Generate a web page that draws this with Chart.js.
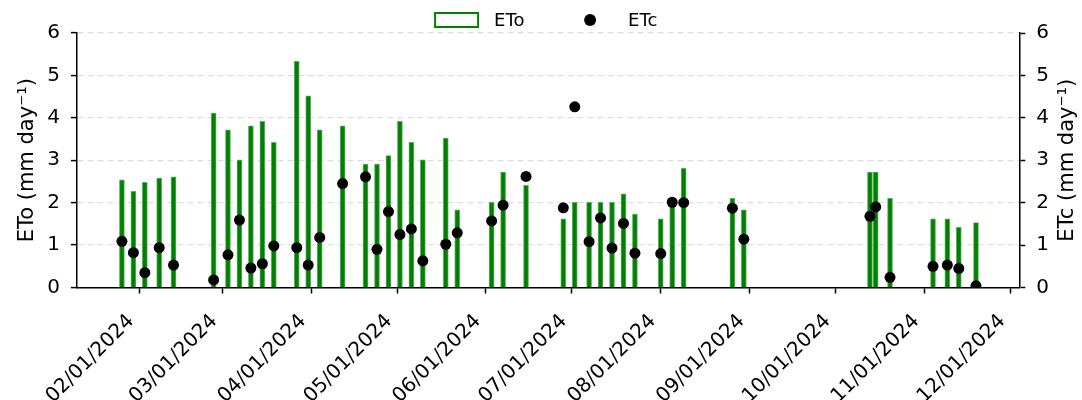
<!DOCTYPE html>
<html>
<head>
<meta charset="utf-8">
<script src="https://cdn.jsdelivr.net/npm/chart.js@4.4.1/dist/chart.umd.min.js"></script>
<style>
  html, body { margin: 0; padding: 0; background: #ffffff; }
</style>
</head>
<body>
<canvas id="etchart" width="1082" height="400"></canvas>
<script>
// measurement dates (bar centres)
const dates = [
    '2024-01-26', '2024-01-30', '2024-02-03', '2024-02-08', '2024-02-13',
    '2024-02-27', '2024-03-03', '2024-03-07', '2024-03-11', '2024-03-15', '2024-03-19',
    '2024-03-27', '2024-03-31', '2024-04-04', '2024-04-12',
    '2024-04-20', '2024-04-24', '2024-04-28', '2024-05-02', '2024-05-06', '2024-05-10',
    '2024-05-18', '2024-05-22',
    '2024-06-03', '2024-06-07', '2024-06-15',
    '2024-06-28', '2024-07-02', '2024-07-07', '2024-07-11', '2024-07-15', '2024-07-19', '2024-07-23',
    '2024-08-01', '2024-08-05', '2024-08-09',
    '2024-08-26', '2024-08-30',
    '2024-10-13', '2024-10-15', '2024-10-20',
    '2024-11-04', '2024-11-09', '2024-11-13', '2024-11-19'
];

// reference evapotranspiration (mm/day)
const etoValues = [
    2.54, 2.27, 2.48, 2.58, 2.61,
    4.11, 3.72, 3.01, 3.81, 3.92, 3.42,
    5.33, 4.52, 3.72, 3.81,
    2.91, 2.91, 3.11, 3.92, 3.42, 3.01,
    3.52, 1.83,
    2.01, 2.72, 2.41,
    1.62, 2.01, 2.01, 2.01, 2.01, 2.21, 1.73,
    1.62, 2.01, 2.81,
    2.10, 1.83,
    2.72, 2.72, 2.10,
    1.62, 1.62, 1.42, 1.53
];

// crop evapotranspiration (mm/day)
const etcValues = [
    1.09, 0.82, 0.35, 0.94, 0.53,
    0.18, 0.77, 1.59, 0.46, 0.56, 0.98,
    0.94, 0.53, 1.18, 2.45,
    2.61, 0.90, 1.79, 1.25, 1.38, 0.63,
    1.02, 1.29,
    1.57, 1.94, 2.62,
    1.88, 4.26, 1.08, 1.64, 0.93, 1.51, 0.81,
    0.80, 2.01, 2.00,
    1.87, 1.14,
    1.68, 1.90, 0.24,
    0.50, 0.53, 0.45, 0.04
];

const tickDates = [
    '2024-02-01', '2024-03-01', '2024-04-01', '2024-05-01', '2024-06-01', '2024-07-01',
    '2024-08-01', '2024-09-01', '2024-10-01', '2024-11-01', '2024-12-01'
];
const tickLabels = [
    '02/01/2024', '03/01/2024', '04/01/2024', '05/01/2024', '06/01/2024', '07/01/2024',
    '08/01/2024', '09/01/2024', '10/01/2024', '11/01/2024', '12/01/2024'
];

// day number counted from 1 Jan 2024
function dayNum(s) {
    var p = s.split('-');
    return (Date.UTC(+p[0], +p[1] - 1, +p[2]) - Date.UTC(2024, 0, 1)) / 86400000;
}

const tickDays = tickDates.map(dayNum);
const etoPoints = dates.map(function (d, i) { return { x: dayNum(d), y: etoValues[i] }; });
const etcPoints = dates.map(function (d, i) { return { x: dayNum(d), y: etcValues[i] }; });

const FONT = '"DejaVu Sans", sans-serif';
const GREEN = '#008000';

// legend drawn above the plot, centred on the chart area
const topLegend = {
    id: 'topLegend',
    afterDraw: function (chart) {
        var ctx = chart.ctx;
        var a = chart.chartArea;
        var cx = (a.left + a.right) / 2;
        var cy = 20;
        ctx.save();
        ctx.fillStyle = '#ffffff';
        ctx.strokeStyle = GREEN;
        ctx.lineWidth = 2;
        ctx.fillRect(cx - 113, cy - 7, 43, 14);
        ctx.strokeRect(cx - 113, cy - 7, 43, 14);
        ctx.fillStyle = '#000000';
        ctx.font = '18px ' + FONT;
        ctx.textBaseline = 'middle';
        ctx.fillText('ETo', cx - 54, cy + 1);
        ctx.beginPath();
        ctx.arc(cx + 42, cy, 6, 0, Math.PI * 2);
        ctx.fill();
        ctx.fillText('ETc', cx + 80, cy + 1);
        ctx.restore();
    }
};

// right axis title reads bottom-to-top like the left one
const rightTitle = {
    id: 'rightTitle',
    afterDraw: function (chart) {
        var ctx = chart.ctx;
        var a = chart.chartArea;
        ctx.save();
        ctx.translate(chart.scales.y2.right + 8, (a.top + a.bottom) / 2);
        ctx.rotate(-Math.PI / 2);
        ctx.font = '21px ' + FONT;
        ctx.fillStyle = '#000000';
        ctx.textAlign = 'center';
        ctx.textBaseline = 'middle';
        ctx.fillText('ETc (mm day\u207B\u00B9)', 0, 0);
        ctx.restore();
    }
};

const data = {
    datasets: [
        {
            type: 'line',
            label: 'ETc',
            data: etcPoints,
            showLine: false,
            pointRadius: 5.5,
            pointHoverRadius: 5.5,
            pointBackgroundColor: '#000000',
            pointBorderWidth: 0,
            yAxisID: 'y2',
            order: 0
        },
        {
            type: 'bar',
            label: 'ETo',
            data: etoPoints,
            backgroundColor: GREEN,
            borderColor: '#5fae5f',
            borderWidth: 1,
            barThickness: 5,
            yAxisID: 'y',
            order: 1
        }
    ]
};

const config = {
    type: 'bar',
    data: data,
    options: {
        responsive: false,
        animation: false,
        layout: { padding: { left: 15, right: 22, top: 33, bottom: -24 } },
        plugins: {
            legend: { display: false },
            tooltip: { enabled: false }
        },
        scales: {
            x: {
                type: 'linear',
                offset: false,
                min: 9.3,
                max: 338.1,
                afterBuildTicks: function (scale) {
                    scale.ticks = tickDays.map(function (v) { return { value: v }; });
                },
                ticks: {
                    autoSkip: false,
                    minRotation: 45,
                    maxRotation: 45,
                    padding: 16,
                    labelOffset: -8,
                    color: '#000000',
                    font: { family: FONT, size: 20 },
                    callback: function (value) {
                        var i = tickDays.indexOf(value);
                        return i >= 0 ? tickLabels[i] : '';
                    }
                },
                grid: { offset: false, drawOnChartArea: false, tickLength: 6, tickColor: '#000000', tickWidth: 1.5 },
                border: { display: true, color: '#000000', width: 1.5 }
            },
            y: {
                position: 'left',
                min: 0,
                max: 6,
                ticks: { stepSize: 1, padding: 11, color: '#000000', font: { family: FONT, size: 20 } },
                grid: {
                    color: function (c) { return c.tick && c.tick.value === 0 ? 'rgba(0,0,0,0)' : '#dedede'; },
                    lineWidth: 1.2,
                    tickLength: 6,
                    tickColor: '#000000',
                    tickWidth: 1.5
                },
                border: { display: true, color: '#000000', width: 1.5, dash: [6, 4] },
                title: {
                    display: true,
                    text: 'ETo (mm day\u207B\u00B9)',
                    color: '#000000',
                    font: { family: FONT, size: 21 },
                    padding: { top: 0, bottom: -4 }
                }
            },
            y2: {
                position: 'right',
                min: 0,
                max: 6,
                ticks: { stepSize: 1, padding: 11, color: '#000000', font: { family: FONT, size: 20 } },
                grid: { drawOnChartArea: false, tickLength: 6, tickColor: '#000000', tickWidth: 1.5 },
                border: { display: true, color: '#000000', width: 1.5 }
            }
        }
    },
    plugins: [topLegend, rightTitle]
};

const myChart = new Chart(document.getElementById('etchart'), config);
</script>
</body>
</html>
